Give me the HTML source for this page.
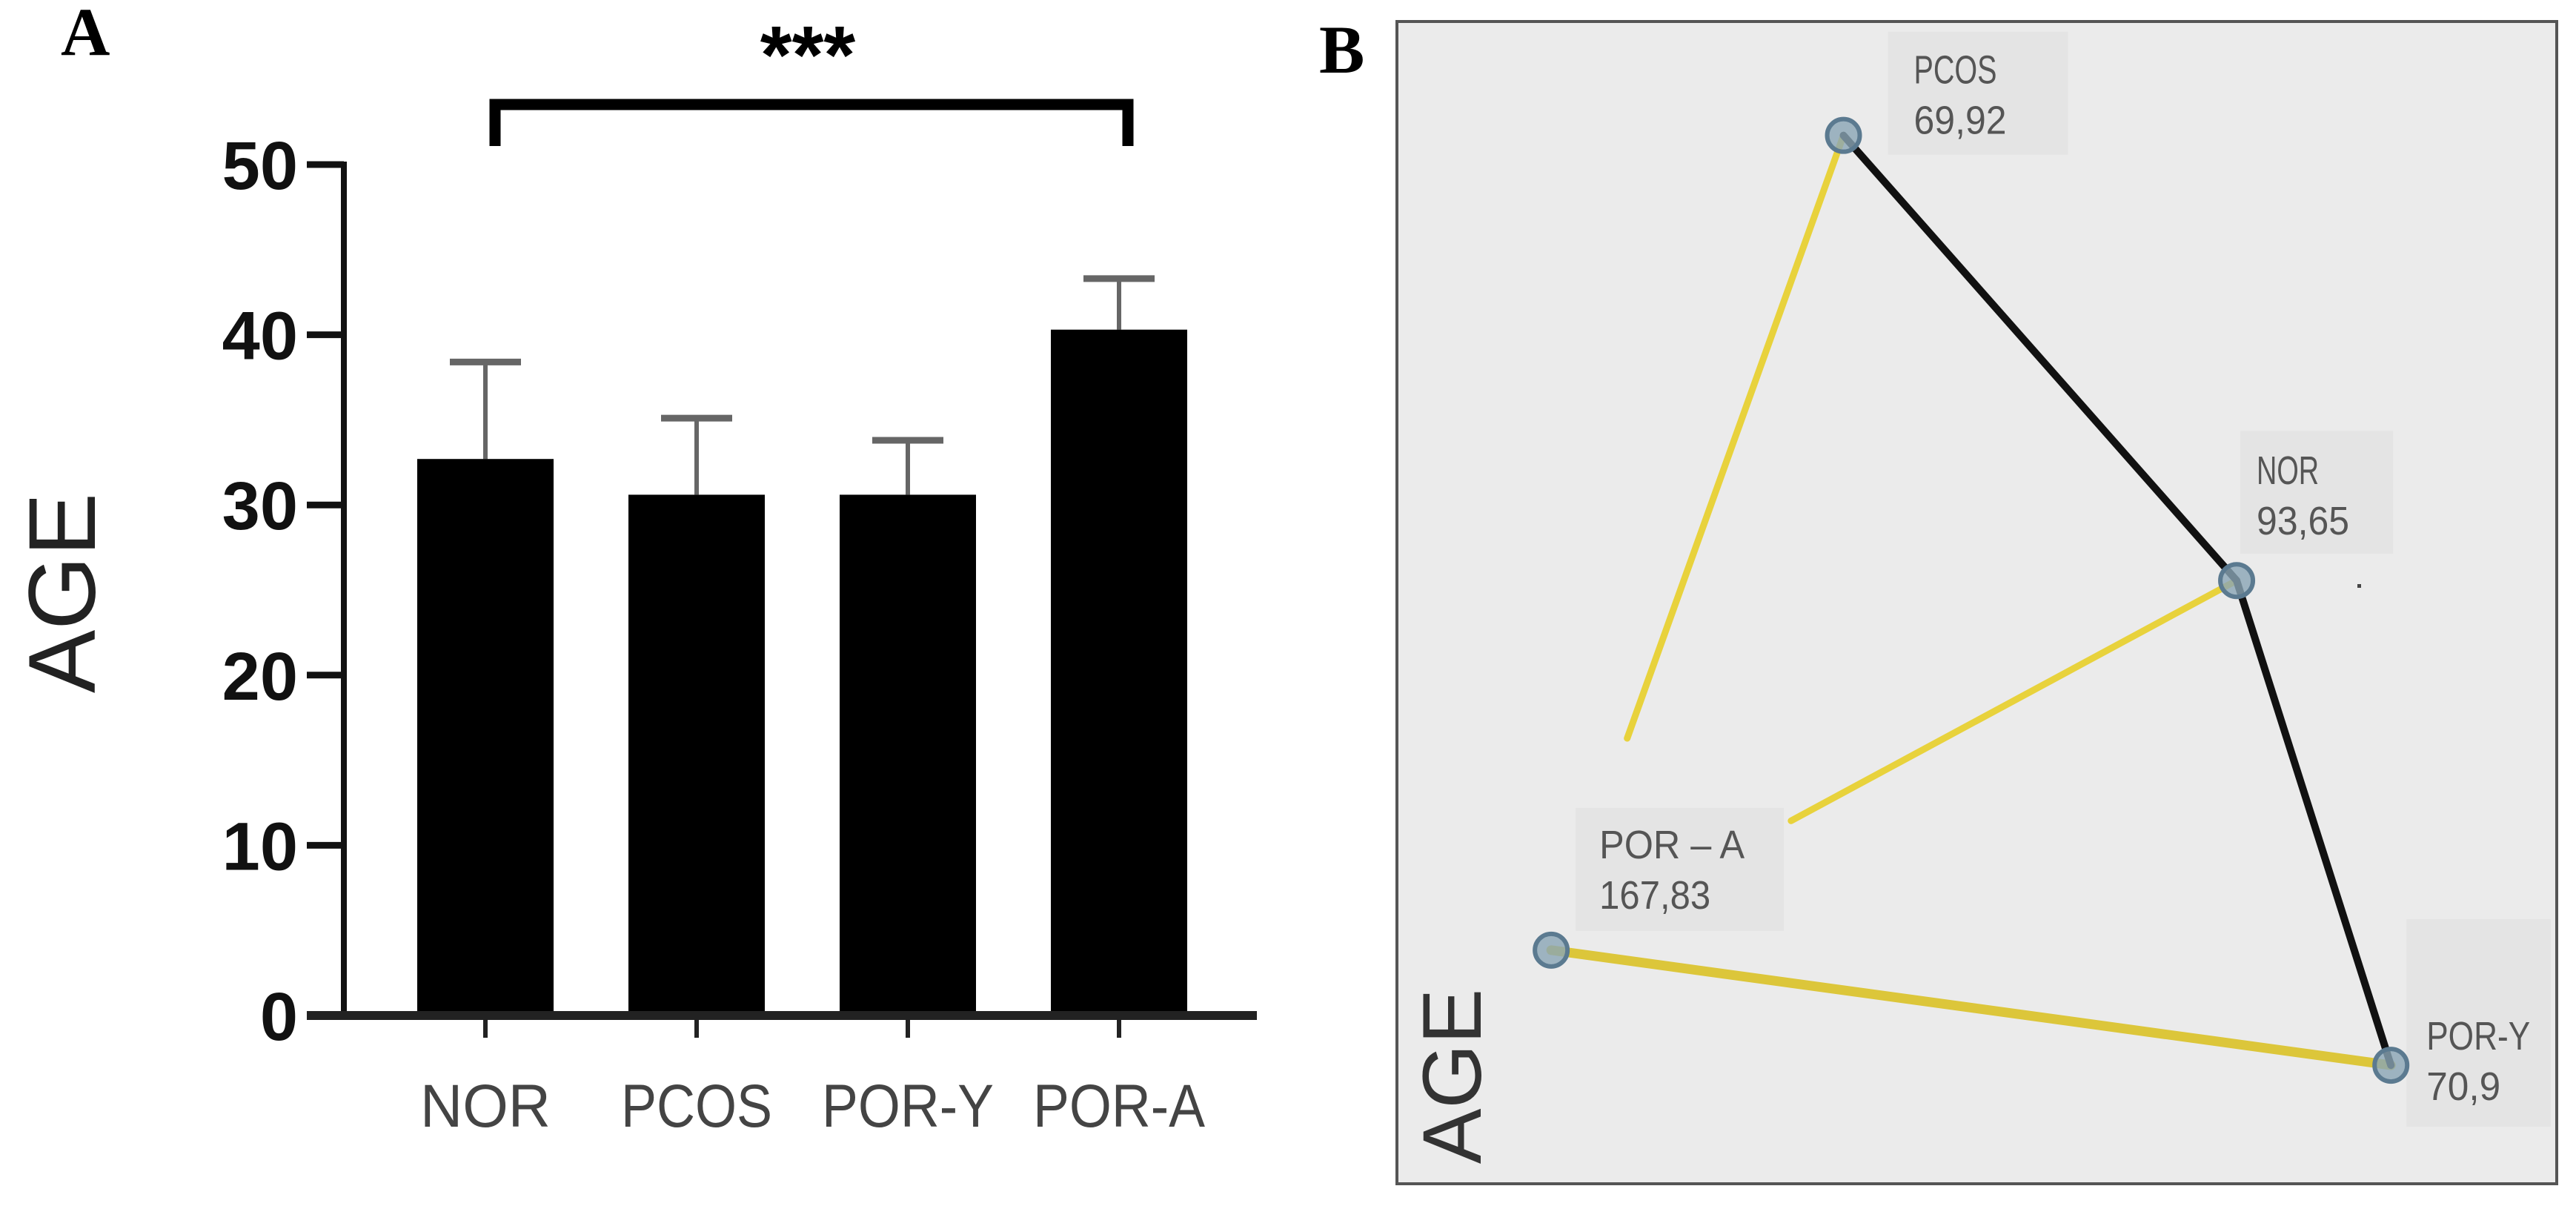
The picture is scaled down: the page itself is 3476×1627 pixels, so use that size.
<!DOCTYPE html>
<html><head><meta charset="utf-8"><style>
html,body{margin:0;padding:0;background:#fff;}
svg{display:block;}
</style></head><body>
<svg id="fig" width="3476" height="1627" viewBox="0 0 3476 1627" xmlns="http://www.w3.org/2000/svg">
<text x="82" y="74" font-family="Liberation Serif, serif" font-weight="bold" font-size="92" fill="#000">A</text>
<text x="1780" y="98" font-family="Liberation Serif, serif" font-weight="bold" font-size="92" fill="#000">B</text>
<g id="barchart"></g>
<g id="network"></g>
</svg>
<script>
const categories = ["NOR","PCOS","POR-Y","POR-A"];
const means = [32.7, 30.6, 30.6, 40.3];
const errors = [5.7, 4.5, 3.2, 3.0];
const yTicks = [0,10,20,30,40,50];

const nodeNames = ["PCOS","NOR","POR – A","POR-Y"];
const nodeValues = ["69,92","93,65","167,83","70,9"];
const nodeX = [0.385, 0.724, 0.133, 0.857];
const nodeY = [0.098, 0.481, 0.799, 0.898];

const NS = "http://www.w3.org/2000/svg";
function mk(parent, tag, attrs){ const e=document.createElementNS(NS,tag); for(const k in attrs) e.setAttribute(k,attrs[k]); parent.appendChild(e); return e; }

// ---- Panel A ----
const A = document.getElementById('barchart');
const axX = 464, y0 = 1370, pxPerUnit = 22.96;
const yScale = v => y0 - v*pxPerUnit;
const xCenter = i => 655 + i*285;
const barW = 184;
const labelW = [176, 204, 232, 232];

for (const t of yTicks) {
  const tk = mk(A,'line',{x1:axX-50,x2:axX,y1:yScale(t),y2:yScale(t),stroke:'#111','stroke-width':9});
  
  
  const tl = mk(A,'text',{x:axX-62,y:yScale(t)+33,'text-anchor':'end','font-family':'Liberation Sans, sans-serif','font-weight':'bold','font-size':92,fill:'#111'});
  tl.textContent = t;
  
  
}
const ya = mk(A,'line',{x1:axX,x2:axX,y1:yScale(50)-4,y2:y0+4,stroke:'#111','stroke-width':8});



categories.forEach((c,i)=>{
  const cx = xCenter(i);
  const top = yScale(means[i]);
  const eTop = yScale(means[i]+errors[i]);
  const eb = mk(A,'line',{x1:cx,x2:cx,y1:eTop,y2:top,stroke:'#666','stroke-width':6});
  
  
  const cap = mk(A,'line',{x1:cx-48,x2:cx+48,y1:eTop,y2:eTop,stroke:'#666','stroke-width':9});
  
  
  const r = mk(A,'rect',{x:cx-barW/2,y:top,width:barW,height:y0-top,fill:'#000'});
  
  
  const xt = mk(A,'line',{x1:cx,x2:cx,y1:y0,y2:y0+30,stroke:'#222','stroke-width':6});
  
  
  const xl = mk(A,'text',{x:cx,y:1520,'text-anchor':'middle','font-family':'Liberation Sans, sans-serif','font-size':82,fill:'#444',textLength:labelW[i],lengthAdjust:'spacingAndGlyphs'});
  xl.textContent = c;
  
  
});
const xa = mk(A,'line',{x1:axX-50,x2:1696,y1:y0,y2:y0,stroke:'#222','stroke-width':12});



const yt = mk(A,'text',{x:0,y:0,transform:'translate(128,800) rotate(-90)','text-anchor':'middle','font-family':'Liberation Sans, sans-serif','font-size':128,fill:'#222'});
yt.textContent='AGE';



const br = mk(A,'path',{d:'M668 197 V141 H1522 V197',fill:'none',stroke:'#000','stroke-width':15});


const st = mk(A,'text',{x:1090,y:112,'text-anchor':'middle','font-family':'Liberation Sans, sans-serif','font-weight':'bold','font-size':110,fill:'#000'});
st.textContent='***';



// ---- Panel B ----
const B = document.getElementById('network');
const bx=1885, by=29, bw=1565, bh=1568;
const px = i => bx + nodeX[i]*bw;
const py = i => by + nodeY[i]*bh;
const bg = mk(B,'rect',{x:bx,y:by,width:bw,height:bh,fill:'#ebebeb',stroke:'#555','stroke-width':4});



const boxOff = [[60,-140,243,166],[5,-202,206,166],[33,-192,281,166],[21,-197,195,280]];
const txtOff = [[95,-70],[27,-130],[65,-124],[48,-21]];
nodeNames.forEach((n,i)=>{
  const b = mk(B,'rect',{x:px(i)+boxOff[i][0],y:py(i)+boxOff[i][1],width:boxOff[i][2],height:boxOff[i][3],fill:'#e4e4e4'});
  
  
});
function seg(a,b,col,w,name,frac){
  const x1=px(a),y1=py(a); let x2=px(b),y2=py(b);
  if(frac){x2=x1+(x2-x1)*frac; y2=y1+(y2-y1)*frac;}
  const l = mk(B,'line',{x1,y1,x2,y2,stroke:col,'stroke-width':w,'stroke-linecap':'round'});
  
  
}
seg(0,2,'#e8d23c',9,'edge-pcos-por-a',0.74);
seg(1,2,'#e8d23c',9,'edge-nor-por-a',0.65);
seg(2,3,'#dcc63a',13,'edge-por-a-por-y');
seg(0,1,'#111',10,'edge-pcos-nor');
seg(1,3,'#111',10,'edge-nor-por-y');
nodeNames.forEach((n,i)=>{
  const c = mk(B,'circle',{cx:px(i),cy:py(i),r:22,fill:'#8aa5b5',stroke:'#5b7a90','stroke-width':6,'fill-opacity':0.8});
  
  
  const t1 = mk(B,'text',{x:px(i)+txtOff[i][0],y:py(i)+txtOff[i][1],'font-family':'Liberation Sans, sans-serif','font-size':54,fill:'#555',textLength:n.length*28,lengthAdjust:'spacingAndGlyphs'});
  t1.textContent = n;
  
  
  const t2 = mk(B,'text',{x:px(i)+txtOff[i][0],y:py(i)+txtOff[i][1]+68,'font-family':'Liberation Sans, sans-serif','font-size':54,fill:'#555',textLength:nodeValues[i].length*25,lengthAdjust:'spacingAndGlyphs'});
  t2.textContent = nodeValues[i];
  
  
});
const dot = mk(B,'rect',{x:3181,y:788,width:5,height:5,fill:'#444'});


const bt = mk(B,'text',{x:0,y:0,transform:'translate(1998,1452) rotate(-90)','text-anchor':'middle','font-family':'Liberation Sans, sans-serif','font-size':112,fill:'#333'});
bt.textContent='AGE';


</script>
</body></html>
